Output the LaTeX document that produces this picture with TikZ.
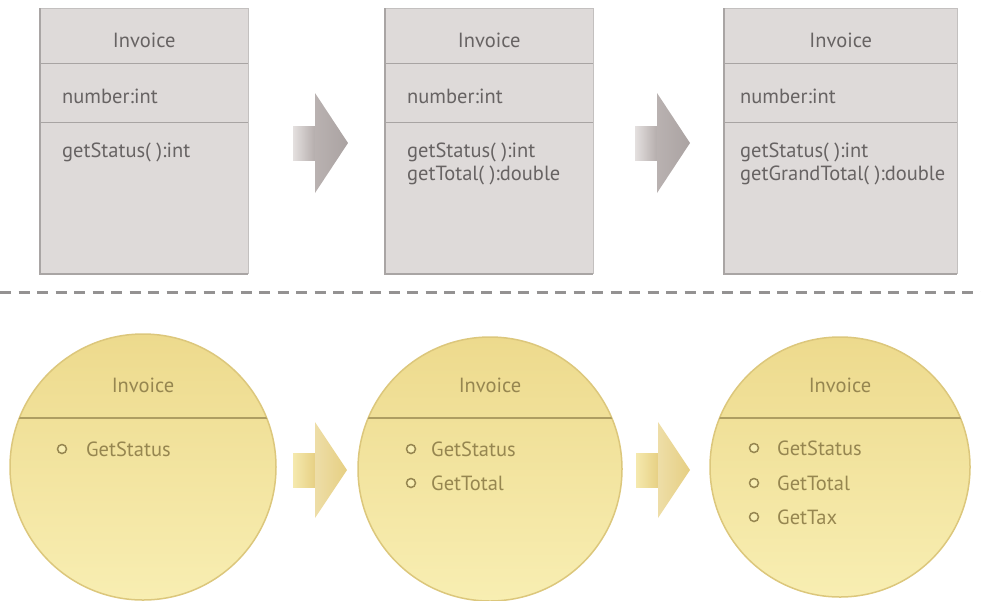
\documentclass[tikz,border=0pt]{standalone}
\usepackage{fontspec}
\setmainfont{PT Sans}
\usetikzlibrary{calc}

\definecolor{boxfill}{HTML}{DEDAD9}
\definecolor{boxedge}{HTML}{A9A5A4}
\definecolor{boxrule}{HTML}{A8A4A3}
\definecolor{boxtext}{HTML}{676363}
\definecolor{arrgrayA}{HTML}{E4E0DF}
\definecolor{arrgrayB}{HTML}{B3ABAA}
\definecolor{goldtop}{HTML}{EDDA8D}
\definecolor{goldbot}{HTML}{F8EEB2}
\definecolor{goldedge}{HTML}{DCC77C}
\definecolor{goldrule}{HTML}{AE9E62}
\definecolor{goldtext}{HTML}{968650}
\definecolor{arrgoldA}{HTML}{F5E9AE}
\definecolor{arrgoldB}{HTML}{E6CF82}
\definecolor{dashcol}{HTML}{949292}

\tikzset{
  umlbox/.style={fill=boxfill, anchor=north west, inner sep=0pt},
  boxtxt/.style={font=\fontsize{20.5}{24}\selectfont, text=boxtext, inner sep=0pt},
  goldcirc/.style={circle, top color=goldtop, bottom color=goldbot,
    draw=goldedge, line width=1.5pt, inner sep=0pt},
  circtxt/.style={font=\fontsize{20.5}{24}\selectfont, text=goldtext, inner sep=0pt},
  bulletmark/.style={circle, draw=goldtext, line width=1.5pt, fill=goldbot,
    minimum size=9pt, inner sep=0pt},
  divider/.style={draw=dashcol, line width=3pt, dash pattern=on 11pt off 7.5pt},
  grayarrow/.pic={
    \shade[left color=arrgrayA, right color=arrgrayB] (0,-17) rectangle (23,17);
    \shade[left color=arrgrayB!92!white, right color=arrgrayB!95!black]
      (22,-50) -- (55,0) -- (22,50) -- cycle;
  },
  goldarrow/.pic={
    \shade[left color=arrgoldA, right color=arrgoldB] (0,-17) rectangle (23,17);
    \shade[left color=arrgoldB!70!white, right color=arrgoldB]
      (22,-48) -- (54,0) -- (22,48) -- cycle;
  },
}

\begin{document}
\begin{tikzpicture}[x=1pt,y=-1pt]
\useasboundingbox (0,0) rectangle (981,600);

% ---------- class boxes ----------
\foreach \name/\xl/\w in {box1/40/208, box2/385/208, box3/724/233}{
  \node[umlbox, minimum width=\w pt, minimum height=266pt] (\name) at (\xl,8) {};
  \draw[boxfill!88!black, line width=0.8pt] (\name.north west) -- (\name.north east)
    -- (\name.south east);
  \draw[boxrule, line width=1pt] (\name.west |- 0,63) -- (\name.east |- 0,63);
  \draw[boxrule, line width=1pt] (\name.west |- 0,122) -- (\name.east |- 0,122);
  \draw[boxedge, line width=2pt] (\name.north west) -- (\name.south west)
    -- (\name.south east);
  \node[boxtxt] (\name-title) at (\name.north |- 0,40) {Invoice};
}
\node[boxtxt, anchor=west] (b1a) at (62,96) {number:int};
\node[boxtxt, anchor=west] (b1m1) at (62,152) {getStatus( ):int};

\node[boxtxt, anchor=west] (b2a) at (407,96) {number:int};
\node[boxtxt, anchor=west] (b2m1) at (407,152) {getStatus( ):int};
\node[boxtxt, anchor=west] (b2m2) at (407,175) {getTotal( ):double};

\node[boxtxt, anchor=west] (b3a) at (740,96) {number:int};
\node[boxtxt, anchor=west] (b3m1) at (740,152) {getStatus( ):int};
\node[boxtxt, anchor=west] (b3m2) at (740,175) {getGrandTotal( ):double};

% ---------- grey block arrows ----------
\pic at (293,143) {grayarrow};
\pic at (635,143) {grayarrow};

% ---------- divider ----------
\coordinate (divL) at (0,292);
\coordinate (divR) at (981,292);
\draw[divider] (divL) -- (divR);

% ---------- object circles ----------
\foreach \name/\cx/\cy/\r in {c1/143/467/133, c2/490/469/132, c3/840/467/130}{
  \node[goldcirc, minimum size=2*\r pt] (\name) at (\cx,\cy) {};
  \begin{scope}
    \clip (\name.center) circle (\r pt);
    \draw[goldrule, line width=1.6pt] (\cx-\r-5,418) -- (\cx+\r+5,418);
  \end{scope}
  \node[circtxt] (\name-title) at (\cx,385) {Invoice};
}

\node[bulletmark] (c1b1) at (62,449) {};
\node[circtxt, anchor=west] (c1t1) at (86,449) {GetStatus};

\node[bulletmark] (c2b1) at (411,449) {};
\node[circtxt, anchor=west] (c2t1) at (431,449) {GetStatus};
\node[bulletmark] (c2b2) at (411,483) {};
\node[circtxt, anchor=west] (c2t2) at (431,483) {GetTotal};

\node[bulletmark] (c3b1) at (754,448) {};
\node[circtxt, anchor=west] (c3t1) at (777,448) {GetStatus};
\node[bulletmark] (c3b2) at (754,483) {};
\node[circtxt, anchor=west] (c3t2) at (777,483) {GetTotal};
\node[bulletmark] (c3b3) at (754,517) {};
\node[circtxt, anchor=west] (c3t3) at (777,517) {GetTax};

% ---------- gold block arrows ----------
\pic at (293,470) {goldarrow};
\pic at (636,470) {goldarrow};
\end{tikzpicture}
\end{document}
